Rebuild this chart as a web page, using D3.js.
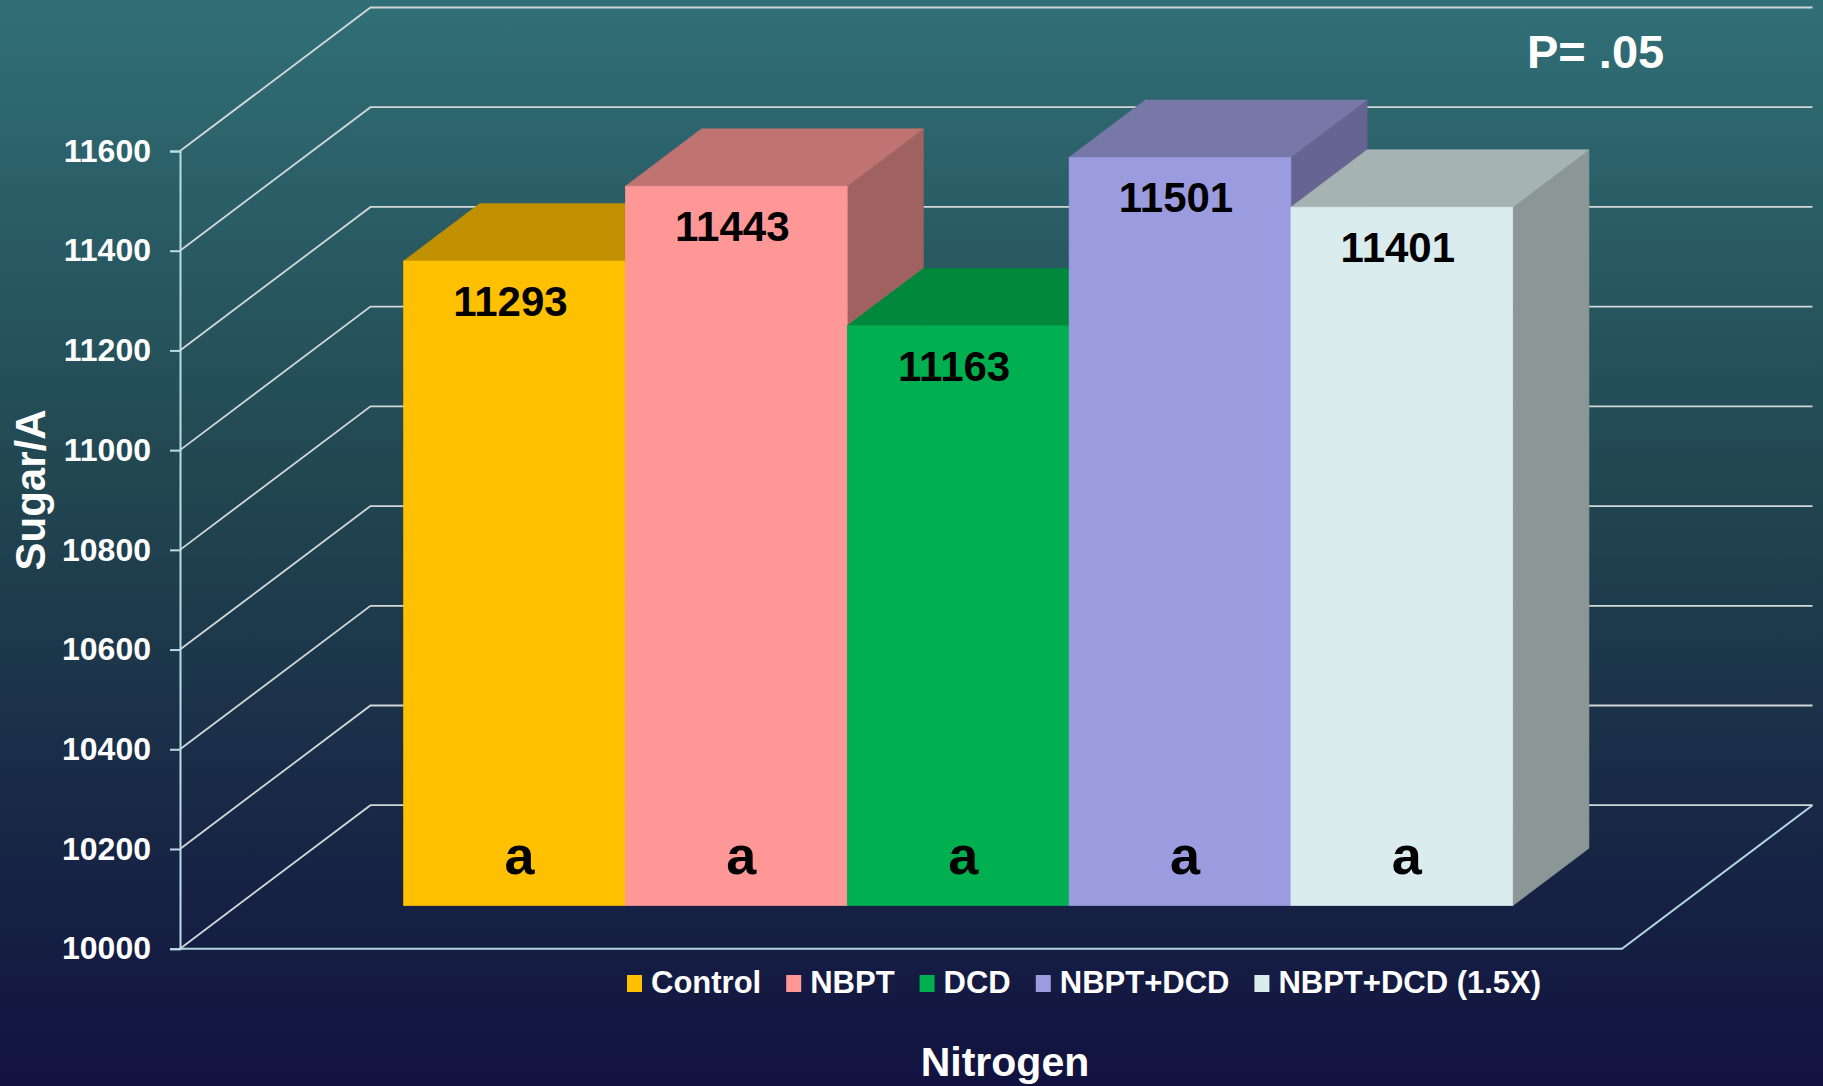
<!DOCTYPE html>
<html>
<head>
<meta charset="utf-8">
<script src="https://cdn.jsdelivr.net/npm/d3@7"></script>
<style>
  body { margin: 0; padding: 0; overflow: hidden; }
  svg { display: block; font-family: "Liberation Sans", Arial, sans-serif; font-weight: bold; }
</style>
</head>
<body>
<svg id="chart"></svg>
<script>
// data
var seriesNames = ["Control", "NBPT", "DCD", "NBPT+DCD", "NBPT+DCD (1.5X)"];
var sugarValues = [11293, 11443, 11163, 11501, 11401];
var sigLetters = ["a", "a", "a", "a", "a"];
var yTicks = [10000, 10200, 10400, 10600, 10800, 11000, 11200, 11400, 11600];

var frontColors = ["#FFC000", "#FF9797", "#00B050", "#9B9CDF", "#DAECEE"];
var topColors   = ["#C09000", "#C07472", "#00883C", "#7777A8", "#A5B4B3"];
var sideColors  = ["#A07800", "#A06261", "#00703A", "#666591", "#8B9796"];

var svgWidth = 1823, svgHeight = 1086;

var svg = d3.select("#chart")
    .attr("width", svgWidth)
    .attr("height", svgHeight);

// background gradient
var defs = svg.append("defs");
var grad = defs.append("linearGradient")
    .attr("id", "bg")
    .attr("x1", 0).attr("y1", 0).attr("x2", 0).attr("y2", 1);
grad.append("stop").attr("offset", "0%").attr("stop-color", "#316F77");
grad.append("stop").attr("offset", "45%").attr("stop-color", "#214650");
grad.append("stop").attr("offset", "75%").attr("stop-color", "#182846");
grad.append("stop").attr("offset", "100%").attr("stop-color", "#121240");

svg.append("rect")
    .attr("width", svgWidth)
    .attr("height", svgHeight)
    .attr("fill", "url(#bg)");

// front wall geometry + depth vector of the 3d box
var xLeft = 180, xRight = 1622;
var DX = 190.5, DY = -143.5;
var zFront = 0.3, zBack = 0.7;

var y = d3.scaleLinear()
    .domain([10000, 11600])
    .range([948.7, 151]);

var x = d3.scaleBand()
    .domain(seriesNames)
    .range([xLeft, xRight])
    .paddingInner(0)
    .paddingOuter(0.75);

function proj(px, v, z) {
    return [px + z * DX, y(v) + z * DY];
}

var line = d3.line();

// grid lines on side + back wall
svg.append("g").selectAll("path")
    .data(yTicks)
    .enter()
    .append("path")
    .attr("d", function(t) {
        return line([proj(xLeft, t, 0), proj(xLeft, t, 1), proj(xRight, t, 1)]);
    })
    .attr("fill", "none")
    .attr("stroke", "#D2D8D8")
    .attr("stroke-width", 1.8);

// floor front edge + right edge
svg.append("path")
    .attr("d", line([proj(xLeft, 10000, 0), proj(xRight, 10000, 0), proj(xRight, 10000, 1)]))
    .attr("fill", "none")
    .attr("stroke", "#B2D8DE")
    .attr("stroke-width", 2);

// y axis
var yAxis = d3.axisLeft(y)
    .tickValues(yTicks)
    .tickSize(10)
    .tickPadding(19)
    .tickFormat(d3.format("d"));

var gy = svg.append("g")
    .attr("transform", "translate(" + xLeft + ",0)")
    .call(yAxis);

gy.select(".domain").attr("stroke", "#B8DEE4").attr("stroke-width", 2);
gy.selectAll(".tick line").attr("stroke", "#B8DEE4").attr("stroke-width", 2);
gy.selectAll(".tick text")
    .attr("fill", "#FFFFFF")
    .style("font-size", "32px")
    .style("font-family", "'Liberation Sans', Arial, sans-serif")
    .style("font-weight", "bold");

// bars
var bw = x.bandwidth();
var barsG = svg.append("g");

seriesNames.forEach(function(name, i) {
    var v = sugarValues[i];
    var x0 = x(name), x1 = x0 + bw;

    barsG.append("path")
        .attr("d", line([proj(x1, v, zFront), proj(x1, v, zBack), proj(x1, 10000, zBack), proj(x1, 10000, zFront)]) + "Z")
        .attr("fill", sideColors[i])
        .attr("stroke", sideColors[i])
        .attr("stroke-width", 0.6);

    barsG.append("path")
        .attr("d", line([proj(x0, v, zFront), proj(x1, v, zFront), proj(x1, v, zBack), proj(x0, v, zBack)]) + "Z")
        .attr("fill", topColors[i])
        .attr("stroke", topColors[i])
        .attr("stroke-width", 0.6);

    var pTop = proj(x0, v, zFront), pBot = proj(x1, 10000, zFront);
    barsG.append("rect")
        .attr("x", pTop[0])
        .attr("y", pTop[1])
        .attr("width", pBot[0] - pTop[0])
        .attr("height", pBot[1] - pTop[1])
        .attr("fill", frontColors[i])
        .attr("stroke", frontColors[i])
        .attr("stroke-width", 0.6);
});

// value labels + letters
seriesNames.forEach(function(name, i) {
    var v = sugarValues[i];
    var cx = proj(x(name) + bw / 2, v, zFront)[0];
    var topY = proj(x(name), v, zFront)[1];

    svg.append("text").text(d3.format("d")(v))
        .attr("x", cx - 4)
        .attr("y", topY + 55)
        .attr("text-anchor", "middle")
        .attr("fill", "#000000")
        .style("font-size", "42px");

    svg.append("text").text(sigLetters[i])
        .attr("x", cx + 5)
        .attr("y", 874)
        .attr("text-anchor", "middle")
        .attr("fill", "#000000")
        .style("font-size", "54px");
});

// legend
var legend = svg.append("g");
var lx = 627;
seriesNames.forEach(function(name, i) {
    legend.append("rect")
        .attr("x", lx)
        .attr("y", 975)
        .attr("width", 15)
        .attr("height", 17)
        .attr("fill", frontColors[i]);
    var t = legend.append("text").text(name)
        .attr("x", lx + 24)
        .attr("y", 993)
        .attr("fill", "#FFFFFF")
        .style("font-size", "31px");
    lx = lx + 24 + t.node().getComputedTextLength() + 25;
});

// titles
svg.append("text").text("Nitrogen")
    .attr("x", 1005)
    .attr("y", 1076)
    .attr("text-anchor", "middle")
    .attr("fill", "#FFFFFF")
    .style("font-size", "41px");

svg.append("text").text("Sugar/A")
    .attr("text-anchor", "middle")
    .attr("transform", "translate(45,490)rotate(-90)")
    .attr("fill", "#FFFFFF")
    .style("font-size", "42px");

svg.append("text").text("P= .05")
    .attr("x", 1527)
    .attr("y", 68)
    .attr("fill", "#FFFFFF")
    .style("font-size", "47px");
</script>
</body>
</html>
